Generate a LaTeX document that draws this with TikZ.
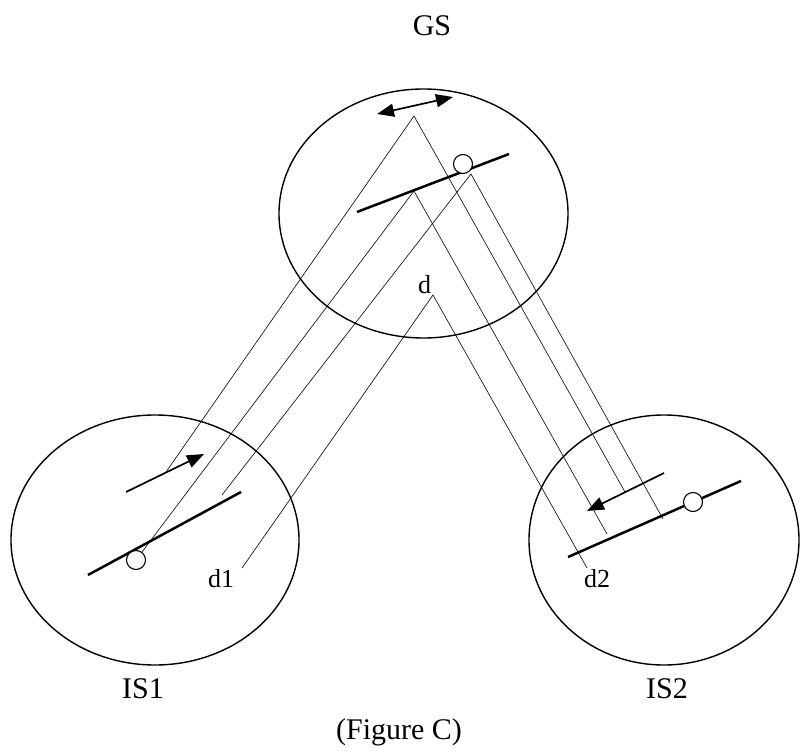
\documentclass[tikz,border=0pt]{standalone}
\usepackage{fontspec}
\setmainfont{Liberation Serif}
\usetikzlibrary{arrows.meta}

\begin{document}
\begin{tikzpicture}[
    x=1pt, y=-1pt,
    station/.style={line width=1.4pt},
    ray/.style={line width=0.6pt},
    mirror/.style={line width=2.5pt},
    % a thick arrow with a filled head
    motion/.style={line width=1.7pt, -{Triangle[length=17pt,width=13pt]}},
    pivot/.style={
      circle,
      draw,
      fill=white,
      line width=1.1pt,
      minimum size=19pt,
      inner sep=0pt,
    },
    tag/.style={anchor=base, inner sep=0pt, font=\fontsize{30}{36}\selectfont},
    dist/.style={anchor=base, inner sep=0pt, font=\fontsize{26}{31}\selectfont},
  ]
  \useasboundingbox (0,0) rectangle (803,754);

  % the three stations
  \draw[station] (423.5,213.5) ellipse [x radius=144.5, y radius=124.5];
  \draw[station] (155,540) ellipse [x radius=144, y radius=125];
  \draw[station] (664,540) ellipse [x radius=135, y radius=125];

  % points where the rays meet in GS
  \coordinate (apex) at (414,116);
  \coordinate (mid) at (414,191);
  \coordinate (edge) at (471,174);
  \coordinate (dtip) at (433,295);

  % ends of the rays in IS1
  \coordinate (shaftone) at (166,472);
  \coordinate (aboveone) at (222,495);
  \coordinate (done) at (242,568);

  % ends of the rays in IS2
  \coordinate (shafttwo) at (625,492);
  \coordinate (midtwo) at (607,534);
  \coordinate (ontwo) at (663,519);
  \coordinate (dtwo) at (587,568);

  % mirrors
  \draw[mirror] (357,212) -- (509,154);
  \draw[mirror] (88,575) -- (241,492);
  \draw[mirror] (568,557) -- (741,481);

  % motions
  \draw[line width=1.7pt, {Triangle[length=17pt,width=13pt]}-{Triangle[length=17pt,width=13pt]}]
        (377,114) -- (453,97);
  \draw[motion] (126,492) -- (204,454);
  \draw[motion] (664,473) -- (587,511);

  % pivots
  \node[pivot] (pivgs) at (463,164) {};
  \node[pivot] (pivone) at (136,560) {};
  \node[pivot] (pivtwo) at (693,502) {};

  % rays
  \draw[ray] (shaftone) -- (apex) -- (shafttwo);
  \draw[ray] (pivone) -- (mid) -- (midtwo);
  \draw[ray] (aboveone) -- (edge) -- (ontwo);
  \draw[ray] (done) -- (dtip) -- (dtwo);

  % labels
  \node[tag] (gs) at (432,36) {GS};
  \node[tag] (isone) at (143,698) {IS1};
  \node[tag] (istwo) at (667,698) {IS2};
  \node[tag] (caption) at (399,739) {(Figure C)};
  \node[dist] (d) at (424.5,293) {d};
  \node[dist] (dlabone) at (221,587) {d1};
  \node[dist] (dlabtwo) at (597,587) {d2};
\end{tikzpicture}
\end{document}
